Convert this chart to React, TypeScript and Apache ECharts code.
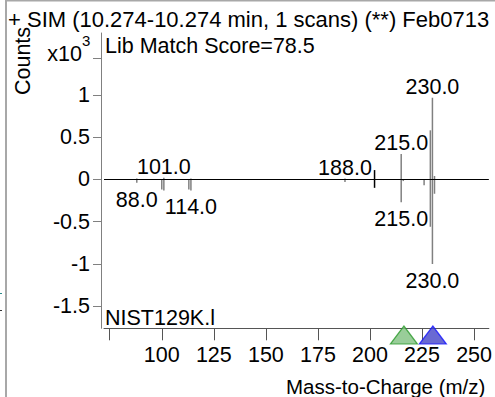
import React, { useEffect, useRef } from "react";
import * as echarts from "echarts";

const titleText = "+ SIM (10.274-10.274 min, 1 scans) (**) Feb0713";
const yAxisName = "Counts";
const xAxisName = "Mass-to-Charge (m/z)";
const scoreText = "Lib Match Score=78.5";
const libraryName = "NIST129K.l";

// sample spectrum (upper, x10^3 counts)
const sampleMz = [88, 101, 114, 188, 215, 229, 230, 231];
const sampleCounts = [0.01, 0.02, 0.01, 0.01, 0.3, 0.58, 0.965, 0.04];
const sampleLabeled = [101, 188, 215, 230];

// library spectrum (lower, mirrored)
const libMz = [88, 100, 101, 113, 114, 188, 215, 216, 226, 229, 230, 231];
const libCounts = [-0.04, -0.12, -0.13, -0.12, -0.13, -0.03, -0.27, -0.02, -0.07, -0.56, -1.0, -0.17];
const libLabeled = [88, 114, 215, 230];

// black cursor marker
const cursorMz = [202.2, 202.2];
const cursorCounts = [0.11, -0.1];

// precursor triangles
const precursorMz = [216.3, 230.2];
const precursorY = -1.84;

const yTicks = [-1.5, -1, -0.5, 0, 0.5, 1];
const yExpTick = 1.43;
const xTicks = [75, 100, 125, 150, 175, 200, 225, 250];
const xLabels = [100, 125, 150, 175, 200, 225, 250];

const FONT = '"Liberation Sans", Arial, sans-serif';
const FS = 21.5;

export default function App() {
  const ref = useRef<HTMLDivElement>(null);
  useEffect(() => {
    if (!ref.current) return;
    const chart = echarts.init(ref.current, undefined, { renderer: "svg" });
    const mk = (mz: number[], c: number[], labeled: number[], pos: string) =>
      mz.map((m, i) => ({
        value: [m, c[i]],
        label: { show: labeled.includes(m), position: pos },
      }));
    chart.setOption({
      animation: false,
      textStyle: { fontFamily: FONT },
      grid: { left: 104, right: 0, top: 33, bottom: 68.7, containLabel: false },
      xAxis: {
        type: "value",
        min: 72.25,
        max: 257.1,
        axisLine: { show: true, onZero: false, lineStyle: { color: "#555", width: 1 } },
        axisTick: { show: true, length: 12, lineStyle: { color: "#555" }, customValues: xTicks },
        axisLabel: { color: "#000", fontSize: FS, fontFamily: FONT, margin: 16, customValues: xLabels },
        splitLine: { show: false },
      },
      yAxis: {
        type: "value",
        min: -1.76,
        max: 1.73,
        offset: 3,
        axisLine: { show: true, lineStyle: { color: "#808080", width: 1 } },
        axisTick: { show: true, length: 8, lineStyle: { color: "#808080" }, customValues: [...yTicks, yExpTick] },
        axisLabel: { color: "#000", fontSize: FS, fontFamily: FONT, margin: 11, customValues: yTicks, formatter: (v: number) => String(v) },
        splitLine: { show: false },
      },
      series: [
        {
          type: "bar",
          barWidth: 1.5,
          barGap: "-100%",
          itemStyle: { color: "#808080" },
          label: { color: "#000", fontSize: FS, fontFamily: FONT, distance: 0, formatter: (p: any) => p.value[0].toFixed(1) },
          data: mk(sampleMz, sampleCounts, sampleLabeled, "top"),
          markLine: {
            silent: true,
            symbol: "none",
            label: { show: false },
            lineStyle: { color: "#000", type: "solid", width: 1 },
            data: [{ yAxis: 0 }],
          },
        },
        {
          type: "bar",
          barWidth: 1.5,
          barGap: "-100%",
          itemStyle: { color: "#808080" },
          label: { color: "#000", fontSize: FS, fontFamily: FONT, distance: 6, formatter: (p: any) => p.value[0].toFixed(1) },
          data: mk(libMz, libCounts, libLabeled, "bottom"),
        },
        {
          type: "bar",
          barWidth: 1.5,
          barGap: "-100%",
          itemStyle: { color: "#000" },
          data: cursorMz.map((m, i) => [m, cursorCounts[i]]),
        },
        {
          type: "scatter",
          clip: false,
          symbol: "triangle",
          symbolSize: [27, 18],
          data: [
            { value: [precursorMz[0], precursorY], itemStyle: { color: "#80c080", borderColor: "#2a9a2a", borderWidth: 1.2 } },
            { value: [precursorMz[1], precursorY], itemStyle: { color: "#4444c8", borderColor: "#1414ff", borderWidth: 1.2 } },
          ],
        },
      ],
      graphic: [
        { type: "line", shape: { x1: 6, y1: 0, x2: 6, y2: 397 }, style: { stroke: "#a8a8a8", lineWidth: 2 } },
        { type: "line", shape: { x1: 6, y1: 0.8, x2: 495, y2: 0.8 }, style: { stroke: "#a8a8a8", lineWidth: 1.6 } },
        { type: "line", shape: { x1: 0, y1: 293.5, x2: 2, y2: 293.5 }, style: { stroke: "#2a8a8a", lineWidth: 1 } },
        { type: "line", shape: { x1: 0, y1: 310.5, x2: 2, y2: 310.5 }, style: { stroke: "#333", lineWidth: 1 } },
        { type: "text", x: 8, y: 19.5, style: { text: titleText, font: `22px ${FONT}`, fill: "#000", textAlign: "left", textVerticalAlign: "middle" } },
        { type: "text", x: 23, y: 61, rotation: Math.PI / 2, style: { text: yAxisName, font: `${FS}px ${FONT}`, fill: "#000", textAlign: "center", textVerticalAlign: "middle" } },
        { type: "text", x: 82, y: 54, style: { text: "x10", font: `${FS}px ${FONT}`, fill: "#000", textAlign: "right", textVerticalAlign: "middle" } },
        { type: "text", x: 82, y: 40, style: { text: "3", font: `15px ${FONT}`, fill: "#000", textAlign: "left", textVerticalAlign: "middle" } },
        { type: "text", x: 105, y: 46, style: { text: scoreText, font: `${FS}px ${FONT}`, fill: "#000", textAlign: "left", textVerticalAlign: "middle" } },
        { type: "text", x: 105, y: 317.5, style: { text: libraryName, font: `${FS}px ${FONT}`, fill: "#000", textAlign: "left", textVerticalAlign: "middle" } },
        { type: "text", x: 286, y: 386, style: { text: xAxisName, font: `20.5px ${FONT}`, fill: "#000", textAlign: "left", textVerticalAlign: "middle" } },
      ],
    });
    return () => chart.dispose();
  }, []);
  return <div ref={ref} style={{ position: "fixed", left: 0, top: 0, width: 495, height: 397, background: "#fff" }} />;
}
